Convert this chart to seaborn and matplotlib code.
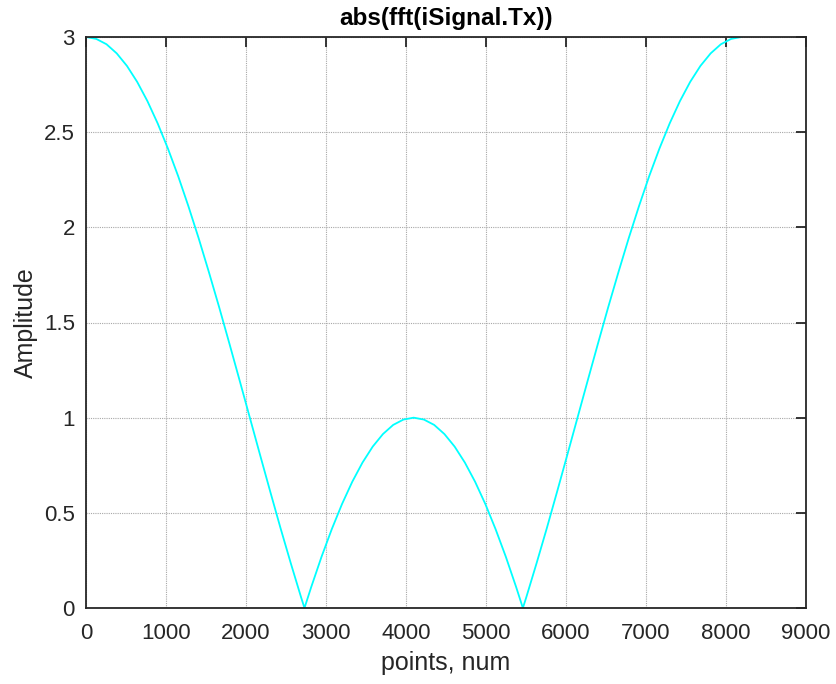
import matplotlib
matplotlib.use("Agg")
import matplotlib.pyplot as plt
import seaborn as sns
import pandas as pd

points = [0, 128, 256, 384, 512, 640, 768, 896, 1024, 1152, 1280, 1408, 1536, 1664, 1792, 1920,
          2048, 2176, 2304, 2432, 2560, 2688, 2731, 2816, 2944, 3072, 3200, 3328, 3456, 3584,
          3712, 3840, 3968, 4096, 4224, 4352, 4480, 4608, 4736, 4864, 4992, 5120, 5248, 5376,
          5461, 5504, 5632, 5760, 5888, 6016, 6144, 6272, 6400, 6528, 6656, 6784, 6912, 7040,
          7168, 7296, 7424, 7552, 7680, 7808, 7936, 8064, 8191]
amplitude = [3.0, 2.990, 2.962, 2.914, 2.848, 2.764, 2.663, 2.546, 2.414, 2.269, 2.111, 1.943,
             1.765, 1.581, 1.390, 1.196, 1.0, 0.804, 0.610, 0.419, 0.235, 0.057, 0.0, 0.111,
             0.269, 0.414, 0.546, 0.663, 0.764, 0.848, 0.914, 0.962, 0.990, 1.0, 0.990, 0.962,
             0.914, 0.848, 0.764, 0.663, 0.546, 0.414, 0.269, 0.111, 0.0, 0.057, 0.235, 0.419,
             0.610, 0.804, 1.0, 1.196, 1.390, 1.581, 1.765, 1.943, 2.111, 2.269, 2.414, 2.546,
             2.663, 2.764, 2.848, 2.914, 2.962, 2.990, 3.0]
xticks = [0, 1000, 2000, 3000, 4000, 5000, 6000, 7000, 8000, 9000]
yticks = [0, 0.5, 1, 1.5, 2, 2.5, 3]
ytick_labels = ["0", "0.5", "1", "1.5", "2", "2.5", "3"]

sns.set_style("white")
plt.rcParams['font.family'] = ['Liberation Sans', 'DejaVu Sans']
tc = "#262626"

fig = plt.figure(figsize=(8.36, 6.84), dpi=100)
ax = fig.add_axes([86/836, 1 - 608/684, 720/836, 571/684])

df = pd.DataFrame({"points": points, "amp": amplitude})
sns.lineplot(data=df, x="points", y="amp", ax=ax, color="#00FFFF", linewidth=1.3, sort=False)

ax.set_xlim(0, 9000)
ax.set_ylim(0, 3)
ax.set_xticks(xticks)
ax.set_xticklabels([str(v) for v in xticks])
ax.set_yticks(yticks)
ax.set_yticklabels(ytick_labels)
ax.grid(True, color="#a8a8a8", linestyle=(0, (1, 1)), linewidth=0.8)
ax.set_axisbelow(True)
ax.tick_params(direction="in", length=7, width=1.3, colors=tc, labelsize=16,
               top=True, right=True, pad=8)
ax.tick_params(axis="x", pad=11)
for s in ax.spines.values():
    s.set_visible(True)
    s.set_color(tc)
    s.set_linewidth(1.3)

ax.set_xlabel("points, num", fontsize=18, color=tc, labelpad=5)
ax.set_ylabel("Amplitude", fontsize=18, color=tc, labelpad=4)
ax.set_title("abs(fft(iSignal.Tx))", fontsize=17.5, fontweight="bold", color="#000000", pad=9)

fig.savefig("out.png", dpi=100)
